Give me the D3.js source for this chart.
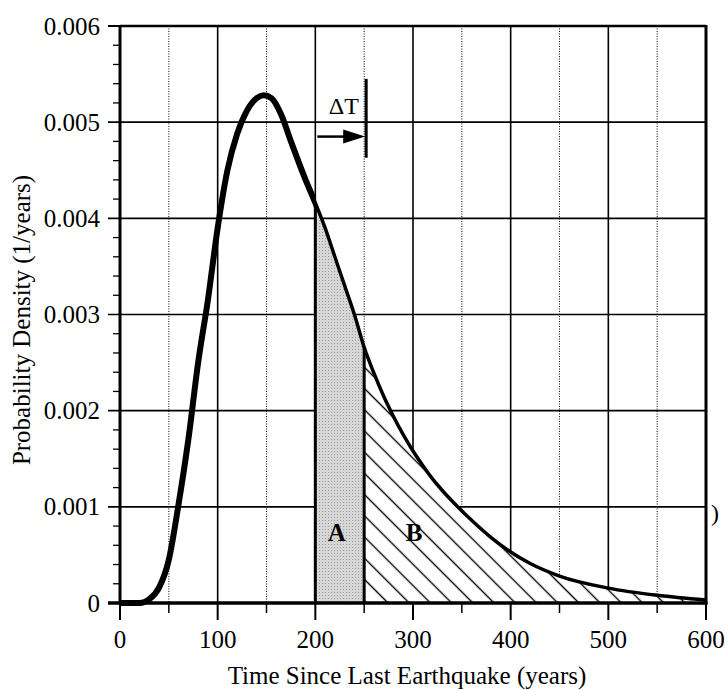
<!DOCTYPE html>
<html>
<head>
<meta charset="utf-8">
<script src="https://cdn.jsdelivr.net/npm/d3@7"></script>
<style>
  html, body { margin: 0; padding: 0; background: #fff; }
  svg { display: block; }
  text { font-family: "Liberation Serif", "Times New Roman", serif; fill: #000; }
</style>
</head>
<body>
<svg id="chart" width="727" height="690"></svg>
<script>
// ---- data ----
const timeYears = [0, 20, 25, 30, 40, 50, 60, 70, 80, 90, 100, 110, 120, 130, 140, 147, 155, 165, 175, 190,
                   200, 210, 220, 230, 240, 250, 260, 270, 280, 290, 300, 310, 320, 330, 340, 360, 380, 400,
                   420, 450, 500, 550, 600];
const density   = [0, 0, 0.00001, 0.00004, 0.00016, 0.00045, 0.00103, 0.0017, 0.0025, 0.00315, 0.0039, 0.0045,
                   0.00488, 0.00512, 0.00525, 0.00528, 0.00525, 0.00508, 0.0048, 0.0044,
                   0.00416, 0.0039, 0.0036, 0.0033, 0.003, 0.00266, 0.00239, 0.00215, 0.00194, 0.00175,
                   0.00158, 0.00143, 0.00129, 0.00117, 0.00106, 0.00086, 0.00068, 0.00053,
                   0.00041, 0.00028, 0.000155, 0.00008, 0.00003];
const xTicks      = [0, 100, 200, 300, 400, 500, 600];
const xMinorTicks = [50, 150, 250, 350, 450, 550];
const yTicks      = [0, 0.001, 0.002, 0.003, 0.004, 0.005, 0.006];
const yTickLabels = ["0", "0.001", "0.002", "0.003", "0.004", "0.005", "0.006"];
const yMinorTicks = d3.range(0, 31).map(i => i * 0.0002).filter((v, i) => i % 5 !== 0);
const windowStart = 200, windowEnd = 250, xMax = 600;
const arrowLevel = 0.00485, markerTop = 0.00545, markerBottom = 0.00463, deltaLabelLevel = 0.00508;
const labelA = { t: 222, v: 0.00064, text: "A" };
const labelB = { t: 301, v: 0.00064, text: "B" };

// ---- layout ----
const W = 727, H = 690;
const m = { left: 120, right: 21, top: 26, bottom: 87 };
const svg = d3.select("#chart");
const x = d3.scaleLinear().domain([0, 600]).range([m.left, W - m.right]);
const y = d3.scaleLinear().domain([0, 0.006]).range([H - m.bottom, m.top]);
const pts = timeYears.map((t, i) => [t, density[i]]);

const defs = svg.append("defs");
const hatch = defs.append("pattern")
  .attr("id", "hatch").attr("patternUnits", "userSpaceOnUse")
  .attr("width", 15).attr("height", 15).attr("x", 5.5)
  .attr("patternTransform", "rotate(-45)");
hatch.append("rect").attr("width", 15).attr("height", 15).attr("fill", "#fff");
hatch.append("line").attr("x1", 7.5).attr("x2", 7.5).attr("y1", -1).attr("y2", 16)
  .attr("stroke", "#000").attr("stroke-width", 1.4);

const stip = defs.append("pattern")
  .attr("id", "stip").attr("patternUnits", "userSpaceOnUse")
  .attr("width", 3).attr("height", 3);
stip.append("rect").attr("width", 3).attr("height", 3).attr("fill", "#d6d6d6");
stip.append("rect").attr("x", 1).attr("y", 1).attr("width", 1).attr("height", 1).attr("fill", "#9a9a9a");

defs.append("clipPath").attr("id", "clipA").append("rect")
  .attr("x", x(windowStart)).attr("width", x(windowEnd) - x(windowStart))
  .attr("y", y(0.006)).attr("height", y(0) - y(0.006));
defs.append("clipPath").attr("id", "clipB").append("rect")
  .attr("x", x(windowEnd)).attr("width", x(xMax) - x(windowEnd))
  .attr("y", y(0.006)).attr("height", y(0) - y(0.006));
defs.append("clipPath").attr("id", "clipL").append("rect")
  .attr("x", 0).attr("width", x(windowStart)).attr("y", 0).attr("height", H);
defs.append("clipPath").attr("id", "clipR").append("rect")
  .attr("x", x(windowStart)).attr("width", W).attr("y", 0).attr("height", H);

// ---- grid ----
const g = svg.append("g");
g.selectAll(".vmaj").data(xTicks.slice(1, -1)).join("line")
  .attr("x1", d => x(d)).attr("x2", d => x(d)).attr("y1", y(0.006)).attr("y2", y(0))
  .attr("stroke", "#000").attr("stroke-width", 1.6);
g.selectAll(".vmin").data(xMinorTicks).join("line")
  .attr("x1", d => x(d)).attr("x2", d => x(d)).attr("y1", y(0.006)).attr("y2", y(0))
  .attr("stroke", "#000").attr("stroke-width", 1).attr("stroke-dasharray", "1,1.5");
g.selectAll(".hmaj").data(yTicks.slice(1, -1)).join("line")
  .attr("x1", x(0) - 12).attr("x2", x(600)).attr("y1", d => y(d)).attr("y2", d => y(d))
  .attr("stroke", "#000").attr("stroke-width", 1.6);

// ---- shaded areas ----
const area = d3.area().x(d => x(d[0])).y0(y(0)).y1(d => y(d[1])).curve(d3.curveMonotoneX);
svg.append("path").attr("d", area(pts)).attr("fill", "url(#stip)").attr("clip-path", "url(#clipA)");
svg.append("path").attr("d", area(pts)).attr("fill", "url(#hatch)").attr("clip-path", "url(#clipB)");

// ---- curve ----
const line = d3.line().x(d => x(d[0])).y(d => y(d[1])).curve(d3.curveMonotoneX);
svg.append("path").attr("d", line(pts)).attr("fill", "none").attr("stroke", "#000")
  .attr("stroke-width", 6).attr("stroke-linejoin", "round").attr("clip-path", "url(#clipL)");
svg.append("path").attr("d", line(pts)).attr("fill", "none").attr("stroke", "#000")
  .attr("stroke-width", 3.5).attr("stroke-linejoin", "round").attr("clip-path", "url(#clipR)");

// boundaries of the window
const valAt = t => density[timeYears.indexOf(t)];
[windowStart, windowEnd].forEach(t => {
  svg.append("line").attr("x1", x(t)).attr("x2", x(t)).attr("y1", y(0)).attr("y2", y(valAt(t)))
    .attr("stroke", "#000").attr("stroke-width", 3);
});

// ---- frame ----
svg.append("line").attr("x1", x(0)).attr("x2", x(600)).attr("y1", y(0.006)).attr("y2", y(0.006))
  .attr("stroke", "#000").attr("stroke-width", 2.5);
svg.append("line").attr("x1", x(0) - 12).attr("x2", x(0)).attr("y1", y(0.006)).attr("y2", y(0.006))
  .attr("stroke", "#000").attr("stroke-width", 2);
svg.append("line").attr("x1", x(0)).attr("x2", x(0)).attr("y1", y(0.006) - 1).attr("y2", y(0) + 1.5)
  .attr("stroke", "#000").attr("stroke-width", 3);
svg.append("line").attr("x1", x(600)).attr("x2", x(600)).attr("y1", y(0.006) - 1).attr("y2", y(0) + 1.5)
  .attr("stroke", "#000").attr("stroke-width", 3);
svg.append("line").attr("x1", x(0) - 12).attr("x2", x(600) + 1.5).attr("y1", y(0)).attr("y2", y(0))
  .attr("stroke", "#000").attr("stroke-width", 3.5);

// ---- ticks ----
svg.selectAll(".ymin").data(yMinorTicks).join("line")
  .attr("x1", x(0) - 7).attr("x2", x(0)).attr("y1", d => y(d)).attr("y2", d => y(d))
  .attr("stroke", "#000").attr("stroke-width", 1.3);
svg.selectAll(".xmaj").data(xTicks).join("line")
  .attr("x1", d => x(d)).attr("x2", d => x(d)).attr("y1", y(0)).attr("y2", y(0) + 17)
  .attr("stroke", "#000").attr("stroke-width", 2);
svg.selectAll(".xmin").data(xMinorTicks).join("line")
  .attr("x1", d => x(d)).attr("x2", d => x(d)).attr("y1", y(0)).attr("y2", y(0) + 10)
  .attr("stroke", "#000").attr("stroke-width", 1.5);

// ---- tick labels ----
svg.selectAll(".ylab").data(yTicks).join("text")
  .attr("x", x(0) - 20).attr("y", d => y(d)).attr("dy", "0.34em")
  .attr("text-anchor", "end").attr("font-size", 25)
  .text((d, i) => yTickLabels[i]);
svg.selectAll(".xlab").data(xTicks).join("text")
  .attr("x", d => x(d)).attr("y", 648)
  .attr("text-anchor", "middle").attr("font-size", 25)
  .text(d => d);

// ---- axis titles ----
svg.append("text").attr("x", (x(0) + x(600)) / 2 - 6).attr("y", 684)
  .attr("text-anchor", "middle").attr("font-size", 25)
  .text("Time Since Last Earthquake (years)");
svg.append("text").attr("transform", "translate(30,320) rotate(-90)")
  .attr("text-anchor", "middle").attr("font-size", 25)
  .text("Probability Density (1/years)");

// ---- ΔT annotation ----
svg.append("line").attr("x1", x(windowEnd) + 2).attr("x2", x(windowEnd) + 2)
  .attr("y1", y(markerTop)).attr("y2", y(markerBottom))
  .attr("stroke", "#000").attr("stroke-width", 3);
svg.append("line").attr("x1", x(windowStart) + 2).attr("x2", x(windowEnd) - 18)
  .attr("y1", y(arrowLevel)).attr("y2", y(arrowLevel))
  .attr("stroke", "#000").attr("stroke-width", 2.5);
svg.append("path")
  .attr("d", `M${x(windowEnd) + 1},${y(arrowLevel)} L${x(windowEnd) - 21},${y(arrowLevel) - 7} L${x(windowEnd) - 21},${y(arrowLevel) + 7} Z`)
  .attr("fill", "#000");
svg.append("text").attr("x", (x(windowStart) + x(windowEnd)) / 2 + 4).attr("y", y(deltaLabelLevel))
  .attr("text-anchor", "middle").attr("font-size", 24).text("ΔT");

// ---- region labels ----
[labelA, labelB].forEach(l => {
  svg.append("text").attr("x", x(l.t)).attr("y", y(l.v))
    .attr("text-anchor", "middle").attr("font-size", 25).attr("font-weight", "bold").text(l.text);
});

// stray parenthesis at right edge of the original figure
svg.append("text").attr("x", x(600) + 5).attr("y", y(0.00085))
  .attr("font-size", 24).text(")");
</script>
</body>
</html>
